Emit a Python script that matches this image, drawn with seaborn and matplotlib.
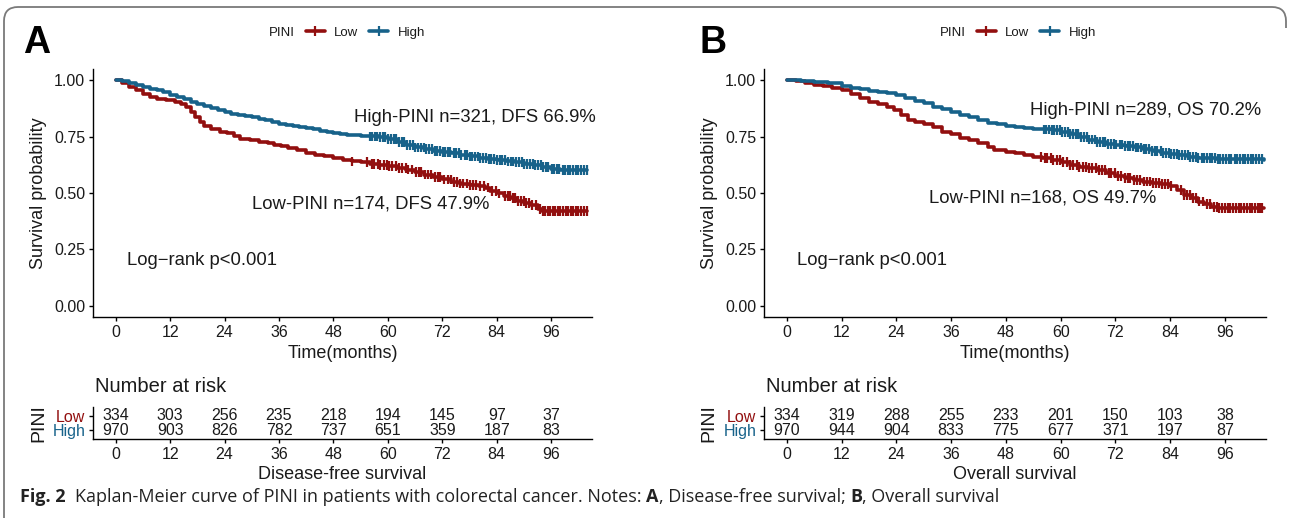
import numpy as np
import pandas as pd
import matplotlib
matplotlib.use("Agg")
import matplotlib.pyplot as plt
import seaborn as sns
from matplotlib.lines import Line2D
from matplotlib.path import Path
from matplotlib.patches import PathPatch
from matplotlib import font_manager

# ---------------- data ----------------
groups = ["Low", "High"]

# Panel A: disease-free survival
dfs_low_t = [0, 1.5, 3, 4.5, 6, 7.5, 9, 11, 13, 14.5, 15.5, 16.5, 17.5, 18.5, 19.5, 21, 23, 24.5, 26, 27.5,
             29.5, 31.5, 33.5, 35, 36.5, 38, 40, 42, 44, 46, 48, 50, 52, 54, 56, 58, 60, 62, 64, 66,
             68, 70, 72, 74, 76, 78, 80, 81.5, 82.5, 84, 85.5, 87, 88.5, 90, 91.5, 93, 94, 104]
dfs_low_s = [1.000, 0.990, 0.972, 0.955, 0.940, 0.925, 0.918, 0.912, 0.903, 0.895, 0.880, 0.860, 0.835, 0.815,
             0.797, 0.782, 0.772, 0.765, 0.752, 0.740, 0.733, 0.726, 0.720, 0.714, 0.707, 0.698, 0.690, 0.678,
             0.670, 0.662, 0.656, 0.647, 0.640, 0.636, 0.630, 0.625, 0.620, 0.612, 0.604, 0.594, 0.582, 0.570,
             0.560, 0.550, 0.542, 0.535, 0.530, 0.524, 0.510, 0.498, 0.487, 0.477, 0.466, 0.455, 0.445, 0.430,
             0.420, 0.420]
dfs_high_t = [0, 1.5, 3, 4.5, 6, 7.5, 9, 10.5, 12, 13.5, 15, 16.5, 18, 19.5, 21, 22.5, 24, 25.5, 27, 28.5,
              30, 31.5, 33, 34.5, 36, 37.5, 39, 40.5, 42, 43.5, 45, 46.5, 48, 49.5, 51, 52.5, 54, 56, 58, 60,
              62, 64, 66, 68, 70, 72, 74, 76, 78, 80, 82, 84, 86, 88, 90, 92, 94, 96, 98, 104]
dfs_high_s = [1.000, 0.995, 0.988, 0.980, 0.972, 0.963, 0.955, 0.946, 0.936, 0.926, 0.916, 0.905, 0.895, 0.885,
              0.875, 0.866, 0.858, 0.852, 0.848, 0.842, 0.836, 0.830, 0.823, 0.816, 0.808, 0.802, 0.797, 0.794,
              0.790, 0.784, 0.777, 0.771, 0.766, 0.762, 0.759, 0.756, 0.753, 0.751, 0.748, 0.740, 0.728, 0.712,
              0.702, 0.694, 0.688, 0.683, 0.677, 0.670, 0.662, 0.656, 0.650, 0.645, 0.640, 0.636, 0.630, 0.624,
              0.616, 0.608, 0.603, 0.603]
dfs_low_cens = [52.0, 55.5, 56.4, 57.0, 57.8, 58.2, 59.1, 59.7, 60.3, 61.0, 61.8, 62.4, 63.2, 63.9, 64.5,
                65.3, 66.1, 66.8, 67.4, 68.2, 68.9, 69.5, 70.3, 71.0, 71.6, 72.4, 73.2, 73.9, 74.5, 75.3,
                76.0, 76.6, 77.4, 78.1, 78.7, 79.5, 80.4, 81.2, 82.1, 83.0, 83.8, 84.6, 85.8, 86.4, 86.9,
                87.5, 88.1, 88.7, 89.3, 89.9, 90.5, 91.2, 91.8, 92.6, 93.5, 94.1, 94.6, 95.2, 95.7, 96.3,
                96.9, 97.4, 98.0, 98.6, 99.2, 99.8, 100.3, 100.9, 101.5, 102.0, 102.6, 103.2, 103.8]
dfs_high_cens = [56.0, 56.5, 57.1, 57.6, 58.2, 58.9, 59.4, 60.0, 60.7, 61.3, 61.8, 62.4, 63.1, 63.6, 64.2,
                 64.9, 65.5, 66.0, 66.6, 67.3, 67.9, 68.4, 69.0, 69.7, 70.3, 70.8, 71.4, 72.1, 72.7, 73.2,
                 73.8, 74.5, 75.1, 75.6, 76.2, 76.9, 77.5, 78.0, 78.6, 79.3, 79.9, 80.4, 81.0, 81.7, 82.3,
                 82.8, 83.4, 84.1, 84.7, 85.2, 85.8, 86.5, 87.1, 87.6, 88.2, 88.9, 89.5, 90.0, 90.6, 91.3,
                 91.9, 92.4, 93.0, 93.7, 94.3, 94.8, 95.4, 96.1, 96.7, 97.2, 97.8, 98.5, 99.1, 99.6, 100.2,
                 100.9, 101.5, 102.0, 102.6, 103.3, 103.9]

# Panel B: overall survival
os_low_t = [0, 2, 4, 6, 8, 10, 12, 14, 16, 18, 20, 22, 23.5, 25, 26.5, 28, 30, 32, 34, 36, 38, 40, 42, 44,
            45.5, 48, 50, 52, 54, 56, 58, 60, 62, 64, 66, 68, 70, 72, 74, 76, 78, 80, 82, 84, 85.5, 87,
            88.5, 90, 91.5, 93, 94.5, 104.5]
os_low_s = [1.000, 0.997, 0.990, 0.980, 0.973, 0.967, 0.955, 0.940, 0.920, 0.905, 0.895, 0.880, 0.866, 0.845,
            0.824, 0.815, 0.805, 0.792, 0.772, 0.760, 0.745, 0.733, 0.722, 0.705, 0.690, 0.683, 0.676, 0.668,
            0.661, 0.654, 0.645, 0.636, 0.626, 0.617, 0.610, 0.601, 0.590, 0.577, 0.566, 0.558, 0.551, 0.545,
            0.540, 0.530, 0.512, 0.492, 0.478, 0.462, 0.450, 0.437, 0.432, 0.432]
os_high_t = [0, 3, 6, 9, 12, 14, 16, 18, 20, 22, 24, 26, 28, 30, 32, 34, 36, 38, 40, 42, 44, 46, 48, 50,
             52, 54, 56, 58, 60, 62, 64, 66, 68, 70, 72, 74, 76, 78, 80, 82, 84, 86, 88, 90, 92, 94, 96, 104.5]
os_high_s = [1.000, 0.998, 0.992, 0.986, 0.975, 0.967, 0.961, 0.954, 0.949, 0.942, 0.934, 0.922, 0.910, 0.897,
             0.883, 0.871, 0.858, 0.848, 0.836, 0.824, 0.812, 0.804, 0.797, 0.792, 0.788, 0.785, 0.782, 0.778,
             0.772, 0.760, 0.749, 0.737, 0.726, 0.719, 0.715, 0.710, 0.702, 0.695, 0.686, 0.678, 0.672, 0.667,
             0.661, 0.657, 0.654, 0.651, 0.649, 0.648]
os_low_cens = [55.8, 56.6, 57.1, 57.8, 58.4, 59.3, 59.9, 60.6, 61.4, 62.0, 62.7, 63.5, 64.1, 64.8, 65.6,
               66.2, 66.9, 67.7, 68.3, 69.0, 69.8, 70.5, 71.1, 71.9, 72.6, 73.2, 74.0, 74.7, 75.3, 76.1,
               76.8, 77.4, 78.2, 78.9, 79.5, 80.3, 81.0, 81.6, 82.2, 82.8, 83.5, 84.2, 86.3, 87.0, 87.6,
               88.3, 89.1, 89.7, 90.4, 91.2, 92.0, 92.8, 93.6, 94.2, 94.8, 95.4, 96.0, 96.6, 97.2, 97.8,
               98.4, 99.0, 99.6, 100.2, 100.8, 101.4, 102.0, 102.6, 103.2, 103.7, 104.2]
os_high_cens = [56.3, 56.8, 57.4, 58.0, 58.5, 59.1, 59.8, 60.3, 60.9, 61.6, 62.1, 62.7, 63.3, 63.9, 64.5,
                65.1, 65.7, 66.2, 66.9, 67.5, 68.0, 68.6, 69.3, 69.8, 70.4, 71.1, 71.6, 72.2, 72.9, 73.4,
                74.0, 74.7, 75.2, 75.8, 76.5, 77.0, 77.6, 78.3, 78.8, 79.4, 80.1, 80.6, 81.2, 81.9, 82.4,
                83.0, 83.7, 84.2, 84.8, 85.5, 86.0, 86.6, 87.3, 87.8, 88.4, 89.1, 89.6, 90.2, 90.9, 91.4,
                92.0, 92.7, 93.2, 93.8, 94.5, 95.0, 95.6, 96.3, 96.8, 97.4, 98.1, 98.6, 99.2, 99.9, 100.4,
                101.0, 101.7, 102.2, 102.8, 103.5, 104.1]

risk_times = [0, 12, 24, 36, 48, 60, 72, 84, 96]
dfs_risk_low = [334, 303, 256, 235, 218, 194, 145, 97, 37]
dfs_risk_high = [970, 903, 826, 782, 737, 651, 359, 187, 83]
os_risk_low = [334, 319, 288, 255, 233, 201, 150, 103, 38]
os_risk_high = [970, 944, 904, 833, 775, 677, 371, 197, 87]

y_ticks = [0.00, 0.25, 0.50, 0.75, 1.00]
y_tick_labels = ["0.00", "0.25", "0.50", "0.75", "1.00"]

dfs_text_high = "High-PINI n=321, DFS 66.9%"
dfs_text_low = "Low-PINI n=174, DFS 47.9%"
os_text_high = "High-PINI n=289, OS 70.2%"
os_text_low = "Low-PINI n=168, OS 49.7%"
logrank_text = "Log\u2212rank p<0.001"
caption_pieces = [("Fig. 2", True, 2),
                  ("Kaplan-Meier curve of PINI in patients with colorectal cancer. Notes:", False, 1),
                  ("A", True, 0),
                  (", Disease-free survival;", False, 1),
                  ("B", True, 0),
                  (", Overall survival", False, 0)]

# ---------------- style ----------------
sns.set_theme(style="ticks")
FONT = ["Liberation Sans", "DejaVu Sans"]
plt.rcParams["font.family"] = FONT

RED = "#920f0f"
BLUE = "#17628a"
pal = {"Low": RED, "High": BLUE}
INK = "#1a1a1a"


def pick_caption_family():
    names = {}
    for f in font_manager.fontManager.ttflist:
        names.setdefault(f.name, set()).add(f.weight if isinstance(f.weight, int) else 400)
    for fam in ["Noto Sans", "Open Sans", "Lato", "Liberation Sans"]:
        ws = names.get(fam, set())
        if any(w >= 600 for w in ws) and any(w <= 500 for w in ws):
            return fam
    return "DejaVu Sans"


CAP_FAMILY = pick_caption_family()

W, H = 1290, 518
fig = plt.figure(figsize=(W / 100, H / 100), dpi=100)
fig.patch.set_facecolor("white")


def fx(px):
    return px / W


def fy(py):
    return 1 - py / H


def km_frame(t_low, s_low, t_high, s_high):
    return pd.concat([
        pd.DataFrame({"time": t_low, "surv": s_low, "group": "Low"}),
        pd.DataFrame({"time": t_high, "surv": s_high, "group": "High"}),
    ], ignore_index=True)


def cens_frame(cl, ch, t_low, s_low, t_high, s_high):
    rows = []
    for grp, cens, tt, ss in (("Low", cl, t_low, s_low), ("High", ch, t_high, s_high)):
        tt = np.asarray(tt)
        ss = np.asarray(ss)
        for c in cens:
            idx = np.searchsorted(tt, c, side="right") - 1
            rows.append({"time": c, "surv": ss[idx], "group": grp})
    return pd.DataFrame(rows)


def style_axis(ax):
    for s in ("top", "right"):
        ax.spines[s].set_visible(False)
    for s in ("left", "bottom"):
        ax.spines[s].set_linewidth(1.0)
        ax.spines[s].set_color("black")
    ax.tick_params(axis="both", length=3, width=1.0, color="black", pad=2.5,
                   labelsize=11.5, labelcolor=INK)


def panel(x_left, x_right, km, cens, r_low, r_high, txt_high, pos_high, txt_low, pos_low,
          pos_lr, risk_xlabel, letter, letter_x, legend_x):
    w = (x_right - x_left) / W
    ax = fig.add_axes([fx(x_left), fy(317), w, (317 - 69) / H])
    axr = fig.add_axes([fx(x_left), fy(439), w, (439 - 407) / H])

    sns.lineplot(data=km, x="time", y="surv", hue="group", hue_order=groups, palette=pal,
                 drawstyle="steps-post", estimator=None, sort=False, linewidth=2.6,
                 legend=False, ax=ax)
    sns.scatterplot(data=cens, x="time", y="surv", hue="group", hue_order=groups, palette=pal,
                    marker="|", s=50, linewidth=1.6, legend=False, ax=ax)

    ax.set_xlim(-5, 105)
    ax.set_ylim(-0.05, 1.05)
    ax.set_xticks(risk_times)
    ax.set_yticks(y_ticks)
    ax.set_yticklabels(y_tick_labels)
    style_axis(ax)
    ax.set_xlabel("Time(months)", fontsize=13, color=INK)
    ax.set_ylabel("Survival probability", fontsize=13, color=INK)
    ax.xaxis.set_label_coords(0.5, -0.112)
    ax.yaxis.set_label_coords(-0.092, 0.5)

    ax.text(pos_high[0], pos_high[1], txt_high, ha="center", va="center", fontsize=13.3, color=INK)
    ax.text(pos_low[0], pos_low[1], txt_low, ha="center", va="center", fontsize=13.3, color=INK)
    ax.text(pos_lr[0], pos_lr[1], logrank_text, ha="center", va="center", fontsize=13.3, color=INK)

    # risk table
    axr.set_xlim(-5, 105)
    axr.set_ylim(0.4, 2.6)
    for t, lo, hi in zip(risk_times, r_low, r_high):
        axr.text(t, 2, str(lo), ha="center", va="center", fontsize=11.5, color=INK)
        axr.text(t, 1, str(hi), ha="center", va="center", fontsize=11.5, color=INK)
    axr.set_xticks(risk_times)
    axr.set_yticks([2, 1])
    axr.set_yticklabels(["Low", "High"])
    style_axis(axr)
    for lab, c in zip(axr.get_yticklabels(), [RED, BLUE]):
        lab.set_color(c)
    axr.set_xlabel(risk_xlabel, fontsize=13, color=INK)
    axr.set_ylabel("PINI", fontsize=14, color=INK)
    axr.xaxis.set_label_coords(0.5, -0.84)
    axr.yaxis.set_label_coords(-0.092, 0.5)
    axr.set_facecolor("none")

    fig.text(fx(x_left + 2), fy(387), "Number at risk", ha="left", va="center",
             fontsize=14.5, color=INK)

    fig.text(fx(letter_x), fy(53), letter, ha="left", va="baseline", fontsize=27,
             fontweight="bold", color="black")

    handles = [Line2D([], [], linestyle="none"),
               Line2D([0], [0], color=RED, lw=2.6, marker="|", markersize=7, mew=1.6),
               Line2D([0], [0], color=BLUE, lw=2.6, marker="|", markersize=7, mew=1.6)]
    fig.legend(handles=handles, labels=["PINI", "Low", "High"], ncol=3, loc="center left",
               bbox_to_anchor=(fx(legend_x - 28), fy(33)), frameon=False, fontsize=9.5,
               handlelength=1.45, handletextpad=0.7, columnspacing=0.8, borderpad=0,
               borderaxespad=0, labelcolor=INK)
    return ax, axr


kmA = km_frame(dfs_low_t, dfs_low_s, dfs_high_t, dfs_high_s)
cA = cens_frame(dfs_low_cens, dfs_high_cens, dfs_low_t, dfs_low_s, dfs_high_t, dfs_high_s)
kmB = km_frame(os_low_t, os_low_s, os_high_t, os_high_s)
cB = cens_frame(os_low_cens, os_high_cens, os_low_t, os_low_s, os_high_t, os_high_s)

panel(93, 592, kmA, cA, dfs_risk_low, dfs_risk_high,
      dfs_text_high, (79.1, 0.836), dfs_text_low, (56.3, 0.451), (19.1, 0.199),
      "Disease-free survival", "A", 23, 269)
panel(764, 1266, kmB, cB, os_risk_low, os_risk_high,
      os_text_high, (78.7, 0.867), os_text_low, (56.1, 0.478), (18.6, 0.199),
      "Overall survival", "B", 699, 940)

# caption, assembled piece by piece so that the bold parts are real bold text
renderer = fig.canvas.get_renderer()
CAP_SIZE = 13.0
probe1 = fig.text(0, 0, "x x", family=CAP_FAMILY, fontsize=CAP_SIZE)
probe2 = fig.text(0, 0, "xx", family=CAP_FAMILY, fontsize=CAP_SIZE)
space_px = probe1.get_window_extent(renderer).width - probe2.get_window_extent(renderer).width
probe1.remove()
probe2.remove()
x_px = 20
for txt, bold, n_space in caption_pieces:
    t = fig.text(fx(x_px), fy(497), txt, ha="left", va="center", fontsize=CAP_SIZE,
                 family=CAP_FAMILY, fontweight="bold" if bold else "normal", color="#222222")
    bb = t.get_window_extent(renderer)
    x_px = bb.x1 + n_space * space_px

# outer rounded frame (top and left edges)
r = 14
pts = [(4, 518), (4, 7 + r), (4, 7), (4 + r, 7), (1286 - r, 7), (1286, 7), (1286, 7 + r), (1286, 28)]
codes = [Path.MOVETO, Path.LINETO, Path.CURVE3, Path.CURVE3, Path.LINETO, Path.CURVE3, Path.CURVE3,
         Path.LINETO]
path = Path([(fx(x), fy(y)) for x, y in pts], codes)
fig.add_artist(PathPatch(path, transform=fig.transFigure, fill=False, edgecolor="#7a7a7a", lw=1.3))

fig.savefig("out.png", dpi=100, facecolor="white")
